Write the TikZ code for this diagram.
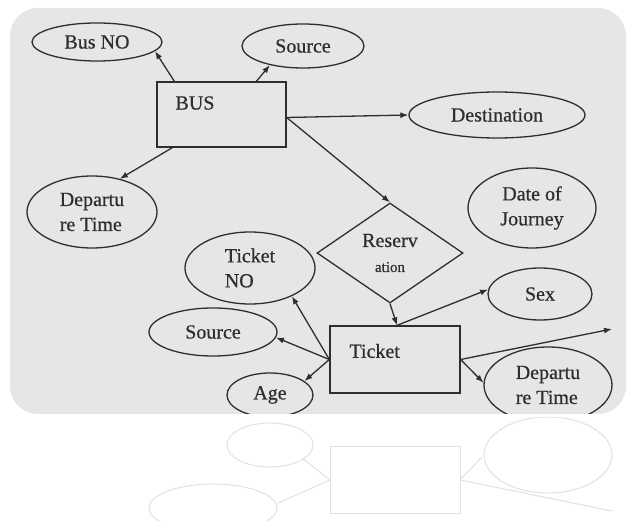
\documentclass[tikz,border=0pt]{standalone}
\usepackage{fontspec}
\setmainfont{Liberation Serif}
\newfontfamily\inkfont{Liberation Serif}[FakeBold=0.6]
\usetikzlibrary{shapes.geometric,arrows.meta,calc}
\definecolor{ink}{HTML}{2E2E2E}
\definecolor{paper}{HTML}{E6E6E6}
\begin{document}
\begin{tikzpicture}[x=1pt,y=-1pt,
  txt/.style={font=\inkfont\fontsize{20}{25}\selectfont, text=ink},
  attr/.style={ellipse, draw=ink, line width=1.3pt, inner sep=0pt, txt},
  ent/.style={rectangle, draw=ink, line width=1.3pt, inner sep=0pt},
  rel/.style={diamond, draw=ink, line width=1.3pt, inner sep=0pt, txt},
  arr/.style={draw=ink, line width=1.3pt, -{Latex[length=8pt,width=6pt]}},
  ghost/.style={draw=ink!14, line width=1pt}]
\useasboundingbox (0,0) rectangle (630,521);
\fill[white] (0,0) rectangle (630,521);
% faint reflection below the panel
\begin{scope}
\clip (10,418) rectangle (626,521);
\draw[ghost] (330,447) rectangle (460,514);
\draw[ghost] (270,445) ellipse [x radius=43, y radius=22];
\draw[ghost] (548,455) ellipse [x radius=64, y radius=38];
\draw[ghost] (213,508) ellipse [x radius=64, y radius=24];
\draw[ghost] (330,480) -- (302,458);
\draw[ghost] (330,480) -- (278,503);
\draw[ghost] (460,480) -- (482,457);
\draw[ghost] (460,480) -- (612,511);
\end{scope}
\fill[paper, rounded corners=28pt] (10,8) rectangle (626,414);
\begin{scope}
\clip[rounded corners=28pt] (10,8) rectangle (626,414);
\node[attr, minimum width=130, minimum height=38] (busno) at (97,42) {Bus NO};
\node[attr, minimum width=122, minimum height=44] (srcA) at (303,46) {Source};
\node[ent, minimum width=129, minimum height=65] (bus) at (221.5,114.5) {};
\node[txt, anchor=west] (busL) at (172,103) {BUS};
\node[attr, minimum width=176, minimum height=46] (dest) at (497,115) {Destination};
\node[attr, minimum width=130, minimum height=72, align=left] (depA) at (92,212) {Departu\\re Time};
\node[attr, minimum width=128, minimum height=80, align=center] (doj) at (532,208) {Date of\\Journey};
\node[rel, minimum width=146, minimum height=100, align=center] (res) at (390,253) {Reserv\\{\fontsize{15}{15}\selectfont ation}};
\node[attr, minimum width=130, minimum height=72, align=left] (tno) at (250,268) {Ticket\\NO};
\node[attr, minimum width=128, minimum height=48] (srcB) at (213,332) {Source};
\node[ent, minimum width=130, minimum height=67] (ticket) at (395,359.5) {};
\node[txt, anchor=west] (ticketL) at (346,351) {Ticket};
\node[attr, minimum width=104, minimum height=52] (sex) at (540,294) {Sex};
\node[attr, minimum width=128, minimum height=76, align=left] (depB) at (548,385) {Departu\\re Time};
\node[attr, minimum width=86, minimum height=44] (age) at (270,395) {Age};
\coordinate (free) at (612,329);
\draw[arr] ($(bus.north west)+(18,0)$) -- (busno.-9);
\draw[arr] ($(bus.north west)+(100,0)$) -- (srcA.-150);
\draw[arr] ($(bus.east)+(0,3)$) -- (dest.west);
\draw[arr] ($(bus.south west)+(16,0)$) -- (depA.50);
\draw[arr] ($(bus.east)+(0,3)$) -- (res.north);
\draw[arr] (res.south) -- ($(ticket.north)+(2,0)$);
\draw[arr] ($(ticket.north)+(2,0)$) -- (sex.175);
\draw[arr] (ticket.west) -- (tno.-34);
\draw[arr] (ticket.west) -- (srcB.-5);
\draw[arr] (ticket.west) -- (age.22);
\draw[arr] (ticket.east) -- (depB.178);
\draw[arr] (ticket.east) -- (free);
\end{scope}
\end{tikzpicture}
\end{document}
